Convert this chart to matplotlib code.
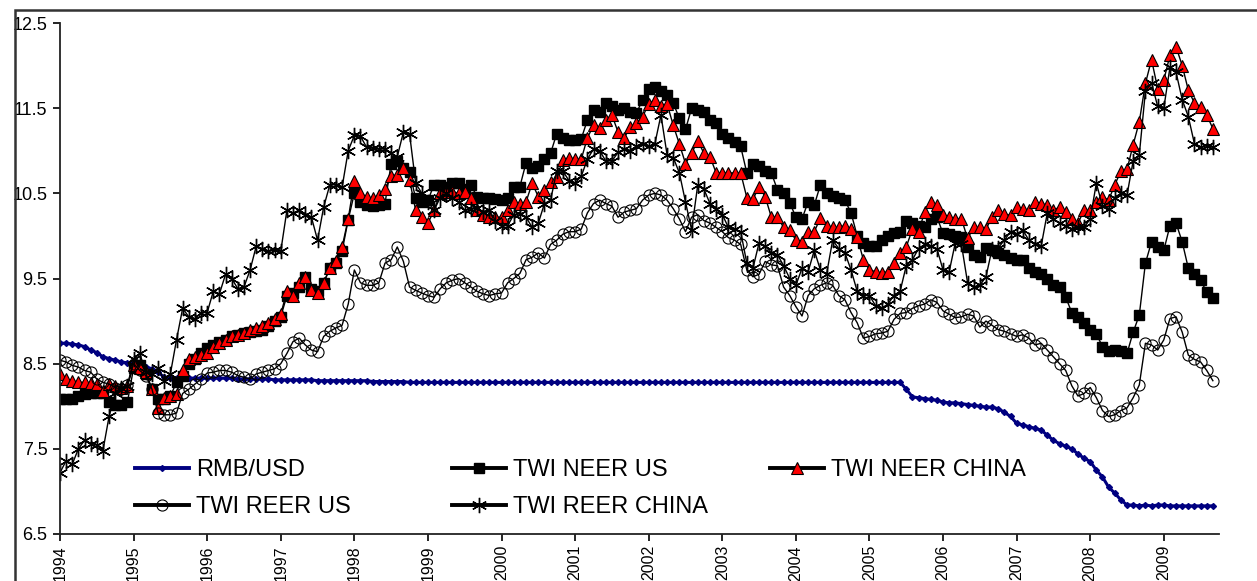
import numpy as np
import matplotlib
matplotlib.use("Agg")
import matplotlib.pyplot as plt
from matplotlib.patches import Rectangle

plt.rcParams['font.family'] = ['Liberation Sans', 'DejaVu Sans']

# monthly data, Jan 1994 - Sep 2009
start_year = 1994
years = [str(y) for y in range(1994, 2010)]

rmb_usd = [
    8.74, 8.74, 8.73, 8.72, 8.70, 8.66, 8.63, 8.58, 8.56, 8.54, 8.52, 8.51,  # 1994
    8.50, 8.49, 8.46, 8.44, 8.40, 8.34, 8.33, 8.33, 8.33, 8.33, 8.33, 8.33,  # 1995
    8.33, 8.33, 8.33, 8.33, 8.33, 8.32, 8.32, 8.32, 8.32, 8.32, 8.32, 8.31,  # 1996
    8.31, 8.31, 8.31, 8.31, 8.31, 8.31, 8.30, 8.30, 8.30, 8.30, 8.30, 8.30,  # 1997
    8.30, 8.30, 8.30, 8.29, 8.29, 8.29, 8.29, 8.29, 8.29, 8.28, 8.28, 8.28,  # 1998
    8.28, 8.28, 8.28, 8.28, 8.28, 8.28, 8.28, 8.28, 8.28, 8.28, 8.28, 8.28,  # 1999
    8.28, 8.28, 8.28, 8.28, 8.28, 8.28, 8.28, 8.28, 8.28, 8.28, 8.28, 8.28,  # 2000
    8.28, 8.28, 8.28, 8.28, 8.28, 8.28, 8.28, 8.28, 8.28, 8.28, 8.28, 8.28,  # 2001
    8.28, 8.28, 8.28, 8.28, 8.28, 8.28, 8.28, 8.28, 8.28, 8.28, 8.28, 8.28,  # 2002
    8.28, 8.28, 8.28, 8.28, 8.28, 8.28, 8.28, 8.28, 8.28, 8.28, 8.28, 8.28,  # 2003
    8.28, 8.28, 8.28, 8.28, 8.28, 8.28, 8.28, 8.28, 8.28, 8.28, 8.28, 8.28,  # 2004
    8.28, 8.28, 8.28, 8.28, 8.28, 8.28, 8.20, 8.11, 8.10, 8.09, 8.08, 8.07,  # 2005
    8.05, 8.04, 8.04, 8.03, 8.02, 8.01, 8.00, 7.99, 7.99, 7.97, 7.93, 7.88,  # 2006
    7.80, 7.78, 7.76, 7.74, 7.72, 7.66, 7.60, 7.56, 7.53, 7.50, 7.44, 7.39,  # 2007
    7.35, 7.25, 7.17, 7.05, 6.98, 6.90, 6.84, 6.84, 6.83, 6.84, 6.83, 6.84,  # 2008
    6.84, 6.83, 6.83, 6.83, 6.83, 6.83, 6.83, 6.83, 6.83,                    # 2009
]

neer_us = [
    8.08, 8.08, 8.08, 8.12, 8.14, 8.16, 8.16, 8.15, 8.05, 8.02, 8.02, 8.05,
    8.45, 8.48, 8.38, 8.20, 8.08, 8.08, 8.12, 8.28, 8.35, 8.50, 8.55, 8.63,
    8.68, 8.72, 8.76, 8.78, 8.82, 8.84, 8.86, 8.87, 8.88, 8.90, 8.94, 9.00,
    9.05, 9.30, 9.33, 9.40, 9.52, 9.38, 9.35, 9.45, 9.62, 9.68, 9.82, 10.19,
    10.50, 10.40, 10.36, 10.35, 10.36, 10.38, 10.85, 10.88, 10.80, 10.75, 10.44, 10.40,
    10.42, 10.60, 10.60, 10.58, 10.62, 10.62, 10.55, 10.60, 10.46, 10.45, 10.44, 10.43,
    10.42, 10.44, 10.57, 10.58, 10.86, 10.80, 10.82, 10.90, 10.97, 11.20, 11.15, 11.13,
    11.13, 11.14, 11.36, 11.48, 11.45, 11.56, 11.52, 11.48, 11.50, 11.46, 11.44, 11.60,
    11.72, 11.75, 11.70, 11.66, 11.56, 11.38, 11.25, 11.50, 11.48, 11.45, 11.36, 11.33,
    11.20, 11.15, 11.10, 11.05, 10.74, 10.85, 10.82, 10.76, 10.74, 10.54, 10.50, 10.39,
    10.22, 10.20, 10.40, 10.36, 10.60, 10.50, 10.47, 10.44, 10.42, 10.27, 10.00, 9.92,
    9.88, 9.88, 9.95, 10.00, 10.03, 10.05, 10.17, 10.15, 10.12, 10.10, 10.20, 10.22,
    10.03, 10.02, 10.00, 9.99, 9.87, 9.78, 9.75, 9.86, 9.84, 9.80, 9.78, 9.74,
    9.72, 9.72, 9.62, 9.58, 9.55, 9.50, 9.42, 9.40, 9.28, 9.10, 9.05, 8.98,
    8.90, 8.85, 8.70, 8.65, 8.66, 8.65, 8.62, 8.87, 9.07, 9.68, 9.93, 9.87,
    9.83, 10.12, 10.15, 9.93, 9.62, 9.55, 9.48, 9.34, 9.27,
]

neer_china = [
    8.38, 8.32, 8.30, 8.28, 8.28, 8.27, 8.26, 8.18, 8.26, 8.24, 8.22, 8.24,
    8.48, 8.45, 8.40, 8.20, 7.98, 8.10, 8.12, 8.14, 8.42, 8.55, 8.58, 8.60,
    8.62, 8.70, 8.74, 8.78, 8.82, 8.84, 8.86, 8.90, 8.92, 8.94, 8.98, 9.02,
    9.08, 9.35, 9.30, 9.45, 9.52, 9.36, 9.33, 9.45, 9.62, 9.70, 9.87, 10.20,
    10.65, 10.50, 10.46, 10.44, 10.48, 10.55, 10.70, 10.72, 10.80, 10.66, 10.30, 10.22,
    10.15, 10.30, 10.50, 10.52, 10.52, 10.50, 10.52, 10.45, 10.30, 10.24, 10.22, 10.22,
    10.22, 10.30, 10.40, 10.38, 10.40, 10.62, 10.46, 10.54, 10.63, 10.69, 10.89, 10.92,
    10.90, 10.90, 11.15, 11.30, 11.27, 11.36, 11.42, 11.22, 11.15, 11.28, 11.32, 11.40,
    11.55, 11.60, 11.52, 11.55, 11.30, 11.08, 10.85, 10.97, 11.12, 10.97, 10.93, 10.74,
    10.74, 10.74, 10.74, 10.74, 10.45, 10.43, 10.58, 10.46, 10.22, 10.22, 10.10, 10.07,
    9.95, 9.93, 10.05, 10.05, 10.21, 10.12, 10.10, 10.10, 10.12, 10.08, 9.99, 9.72,
    9.60, 9.58, 9.56, 9.58, 9.68, 9.80, 9.87, 10.08, 10.05, 10.28, 10.40, 10.36,
    10.25, 10.22, 10.20, 10.20, 9.97, 10.10, 10.10, 10.08, 10.22, 10.30, 10.26, 10.24,
    10.34, 10.32, 10.30, 10.40, 10.38, 10.36, 10.30, 10.34, 10.28, 10.20, 10.15, 10.30,
    10.30, 10.40, 10.46, 10.42, 10.60, 10.76, 10.78, 11.07, 11.34, 11.79, 12.07, 11.73,
    11.83, 12.12, 12.22, 12.00, 11.71, 11.56, 11.51, 11.42, 11.26,
]

reer_us = [
    8.54, 8.52, 8.48, 8.46, 8.42, 8.40, 8.32, 8.28, 8.26, 8.22, 8.20, 8.25,
    8.50, 8.42, 8.36, 8.20, 7.92, 7.90, 7.90, 7.92, 8.15, 8.20, 8.26, 8.32,
    8.39, 8.40, 8.42, 8.42, 8.40, 8.36, 8.34, 8.32, 8.38, 8.40, 8.42, 8.44,
    8.50, 8.62, 8.76, 8.80, 8.72, 8.66, 8.64, 8.82, 8.88, 8.92, 8.95, 9.20,
    9.60, 9.45, 9.42, 9.42, 9.45, 9.68, 9.72, 9.87, 9.70, 9.40, 9.36, 9.33,
    9.30, 9.28, 9.38, 9.45, 9.48, 9.50, 9.45, 9.40, 9.35, 9.32, 9.30, 9.32,
    9.33, 9.45, 9.50, 9.56, 9.72, 9.75, 9.80, 9.74, 9.90, 9.95, 10.02, 10.05,
    10.05, 10.08, 10.27, 10.38, 10.42, 10.38, 10.35, 10.22, 10.28, 10.30, 10.32, 10.42,
    10.48, 10.50, 10.48, 10.42, 10.32, 10.20, 10.05, 10.22, 10.25, 10.18, 10.15, 10.10,
    10.05, 9.98, 9.95, 9.90, 9.60, 9.52, 9.55, 9.70, 9.66, 9.65, 9.40, 9.30,
    9.17, 9.06, 9.30, 9.38, 9.42, 9.45, 9.42, 9.30, 9.25, 9.10, 8.98, 8.80,
    8.82, 8.85, 8.86, 8.88, 9.02, 9.09, 9.10, 9.15, 9.18, 9.20, 9.25, 9.22,
    9.12, 9.08, 9.04, 9.05, 9.08, 9.06, 8.93, 9.00, 8.95, 8.90, 8.88, 8.85,
    8.82, 8.84, 8.80, 8.72, 8.74, 8.66, 8.58, 8.50, 8.42, 8.24, 8.12, 8.15,
    8.22, 8.10, 7.95, 7.88, 7.90, 7.95, 7.98, 8.10, 8.25, 8.74, 8.72, 8.66,
    8.78, 9.03, 9.05, 8.87, 8.60, 8.55, 8.52, 8.42, 8.30,
]

reer_china = [
    7.22, 7.36, 7.32, 7.50, 7.60, 7.56, 7.55, 7.48, 7.88, 8.15, 8.22, 8.24,
    8.55, 8.62, 8.40, 8.38, 8.45, 8.30, 8.38, 8.78, 9.15, 9.05, 9.02, 9.10,
    9.10, 9.35, 9.32, 9.55, 9.50, 9.38, 9.40, 9.60, 9.88, 9.85, 9.82, 9.83,
    9.82, 10.30, 10.27, 10.30, 10.25, 10.22, 9.95, 10.34, 10.60, 10.60, 10.57, 11.00,
    11.18, 11.17, 11.04, 11.03, 11.02, 11.02, 10.97, 10.93, 11.22, 11.20, 10.62, 10.50,
    10.40, 10.30, 10.45, 10.50, 10.45, 10.40, 10.30, 10.32, 10.33, 10.28, 10.30, 10.18,
    10.12, 10.12, 10.25, 10.26, 10.22, 10.10, 10.15, 10.38, 10.42, 10.76, 10.76, 10.65,
    10.62, 10.70, 10.90, 11.02, 11.00, 10.88, 10.88, 10.98, 11.02, 11.00, 11.05, 11.08,
    11.05, 11.08, 11.42, 10.95, 10.92, 10.74, 10.40, 10.07, 10.60, 10.55, 10.38, 10.32,
    10.25, 10.10, 10.08, 10.05, 9.68, 9.62, 9.92, 9.88, 9.80, 9.78, 9.65, 9.50,
    9.42, 9.62, 9.58, 9.83, 9.60, 9.55, 9.95, 9.85, 9.80, 9.60, 9.35, 9.30,
    9.30, 9.18, 9.15, 9.20, 9.30, 9.35, 9.65, 9.72, 9.85, 9.90, 9.88, 9.85,
    9.60, 9.58, 9.92, 9.90, 9.45, 9.40, 9.42, 9.52, 9.85, 9.86, 9.95, 10.05,
    10.02, 10.07, 9.95, 9.90, 9.88, 10.27, 10.20, 10.15, 10.12, 10.08, 10.10, 10.10,
    10.20, 10.62, 10.35, 10.32, 10.45, 10.50, 10.48, 10.88, 10.95, 11.70, 11.80, 11.52,
    11.50, 11.98, 11.92, 11.60, 11.40, 11.08, 11.04, 11.06, 11.04,
]

labels = ["RMB/USD", "TWI NEER US", "TWI NEER CHINA", "TWI REER US", "TWI REER CHINA"]

t = start_year + np.arange(len(rmb_usd)) / 12.0

fig = plt.figure(figsize=(12.57, 5.81), dpi=100)
ax = fig.add_axes([60 / 1257, 47 / 581, 1159 / 1257, 511 / 581])

h_rmb, = ax.plot(t, rmb_usd, color="#000080", lw=2.2, marker="D", ms=3,
                 mfc="#000080", mec="#000080")
h_nus, = ax.plot(t, neer_us, color="black", lw=1, marker="s", ms=7,
                 mfc="black", mec="black")
h_nch, = ax.plot(t, neer_china, color="black", lw=1, marker="^", ms=9,
                 mfc="#ff0000", mec="black", mew=0.8)
h_rus, = ax.plot(t, reer_us, color="black", lw=1, marker="o", ms=8,
                 mfc="none", mec="black", mew=0.8)
h_rch, = ax.plot(t, reer_china, color="black", lw=1, marker=(6, 2, 0), ms=11,
                 mec="black", mew=1)

ax.set_xlim(1994, 2009.75)
ax.set_ylim(6.5, 12.5)
ax.set_yticks(np.arange(6.5, 12.6, 1.0))
ax.set_yticklabels([f"{v:.1f}" for v in np.arange(6.5, 12.6, 1.0)], fontsize=13)
ax.set_xticks(np.arange(1994, 2010))
ax.set_xticklabels(years, rotation=90, fontsize=11.5, va="top")
ax.tick_params(axis="both", direction="out", length=5, width=1.2, color="black")
ax.tick_params(axis="x", pad=3)
ax.tick_params(axis="y", pad=4)

for s in ["top", "right"]:
    ax.spines[s].set_visible(False)
for s in ["left", "bottom"]:
    ax.spines[s].set_linewidth(1.3)
    ax.spines[s].set_color("#222222")

# legend in three columns, placed separately
leg_kw = dict(frameon=False, fontsize=17, handlelength=2.3, handletextpad=0.3,
              labelspacing=0.62, borderpad=0, borderaxespad=0, numpoints=1,
              loc="upper left")
leg_top = 0.146
leg1 = ax.legend([h_rmb, h_rus], [labels[0], labels[3]],
                 bbox_to_anchor=(0.0647, leg_top), **leg_kw)
ax.add_artist(leg1)
leg2 = ax.legend([h_nus, h_rch], [labels[1], labels[4]],
                 bbox_to_anchor=(0.3382, leg_top), **leg_kw)
ax.add_artist(leg2)
leg3 = ax.legend([h_nch], [labels[2]], bbox_to_anchor=(0.6126, leg_top), **leg_kw)

# legend handles drawn with thicker lines
for lg in (leg1, leg2, leg3):
    for ln in lg.get_lines():
        ln.set_linewidth(2.8)

# outer frame
fig.patches.append(Rectangle((15 / 1257, -0.05), 1.1, (571 / 581) + 0.05,
                             transform=fig.transFigure, fill=False,
                             lw=1.8, edgecolor="#333333"))

fig.savefig("out.png", dpi=100)
